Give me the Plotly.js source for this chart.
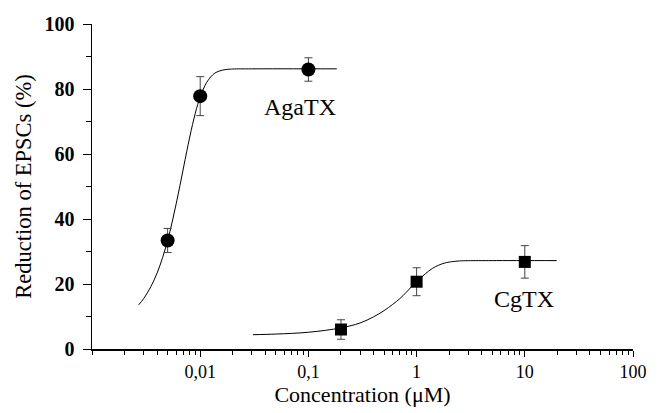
<!DOCTYPE html>
<html>
<head>
<meta charset="utf-8">
<script src="https://cdn.plot.ly/plotly-3.0.1.min.js"></script>
<style>html,body{margin:0;padding:0;background:#fff;}#chart{width:666px;height:413px;}</style>
</head>
<body>
<div id="chart"></div>
<script>
// Measured points (concentration in µM, reduction in %)
const agaConc = [0.005, 0.01, 0.1];
const agaRed = [33.4, 77.8, 86.0];
const agaErr = [3.7, 6.0, 3.6];

const cgConc = [0.2, 1, 10];
const cgRed = [6.0, 20.7, 26.8];
const cgErr = [3.0, 4.3, 5.0];

// Fitted curves, values
const agaFitX = [0.0027, 0.003, 0.0035, 0.004, 0.0045, 0.005, 0.0055, 0.006, 0.0065, 0.007, 0.0075, 0.008, 0.0085, 0.009, 0.0095, 0.01, 0.011, 0.012, 0.013, 0.014, 0.016, 0.018, 0.02, 0.03, 0.183];
const agaFitY = [13.6, 15.5, 19.2, 23.4, 28.2, 33.4, 39.0, 44.7, 50.3, 55.7, 60.7, 65.2, 69.1, 72.5, 75.3, 77.6, 80.9, 83.0, 84.3, 85.1, 85.8, 86.05, 86.15, 86.2, 86.2];
const cgFitX = [0.0307, 0.05, 0.1, 0.2, 0.3, 0.4, 0.5, 0.6, 0.7, 0.8, 0.9, 1.0, 1.2, 1.4, 1.6, 1.8, 2.0, 2.5, 3, 5, 19.7];
const cgFitY = [4.4, 4.6, 5.15, 6.5, 8.0, 9.9, 11.8, 13.7, 15.5, 17.4, 19.2, 20.7, 23.1, 24.8, 25.8, 26.4, 26.75, 27.1, 27.17, 27.2, 27.2];

// Tick labels
const xTickVals = [0.01, 0.1, 1, 10, 100];
const xTickText = ["0,01", "0,1", "1", "10", "100"];
const yTickVals = [0, 20, 40, 60, 80, 100];

const serif = "'Liberation Serif', serif";

const traces = [
  {x: agaFitX, y: agaFitY, mode: "lines", line: {color: "#000", width: 1, shape: "spline", smoothing: 1}, hoverinfo: "skip"},
  {x: cgFitX, y: cgFitY, mode: "lines", line: {color: "#000", width: 1, shape: "spline", smoothing: 1}, hoverinfo: "skip"},
  {x: agaConc, y: agaRed, mode: "markers",
   error_y: {type: "data", array: agaErr, visible: true, color: "#444", thickness: 1, width: 4},
   marker: {symbol: "circle", size: 14, color: "#000"}},
  {x: cgConc, y: cgRed, mode: "markers",
   error_y: {type: "data", array: cgErr, visible: true, color: "#444", thickness: 1, width: 4},
   marker: {symbol: "square", size: 12, color: "#000"}}
];

const layout = {
  width: 666, height: 413,
  margin: {l: 92, r: 33, t: 24, b: 64},
  paper_bgcolor: "#fff", plot_bgcolor: "#fff",
  showlegend: false,
  font: {family: serif, color: "#000"},
  xaxis: {
    type: "log", range: [-3, 2],
    tickmode: "array", tickvals: xTickVals, ticktext: xTickText,
    ticks: "outside", ticklen: 6, tickwidth: 1, tickcolor: "#000",
    ticklabelstandoff: 0,
    minor: {ticks: "outside", ticklen: 4, tickwidth: 1, tickcolor: "#000", dtick: "D1", showgrid: false},
    showline: true, linecolor: "#000", linewidth: 1.5,
    showgrid: false, zeroline: false,
    tickfont: {family: serif, size: 18, color: "#000"},
    title: {text: "Concentration (μM)", font: {family: serif, size: 22, color: "#000"}, standoff: 4}
  },
  yaxis: {
    range: [0, 100],
    tickmode: "array", tickvals: yTickVals,
    ticks: "outside", ticklen: 8, tickwidth: 1, tickcolor: "#000",
    ticklabelstandoff: 4,
    minor: {ticks: "outside", ticklen: 5, tickwidth: 1, tickcolor: "#000", dtick: 10, showgrid: false},
    showline: true, linecolor: "#000", linewidth: 1.5,
    showgrid: false, zeroline: false,
    tickfont: {family: serif, size: 20, weight: "bold", color: "#000"},
    title: {text: "Reduction of EPSCs (%)", font: {family: serif, size: 22.5, color: "#000"}, standoff: 6}
  },
  annotations: [
    {x: -1.077, y: 74.5, xref: "x", yref: "y", text: "AgaTX", showarrow: false,
     font: {family: serif, size: 24, color: "#000"}, xanchor: "center", yanchor: "middle"},
    {x: 0.996, y: 15.5, xref: "x", yref: "y", text: "CgTX", showarrow: false,
     font: {family: serif, size: 24, color: "#000"}, xanchor: "center", yanchor: "middle"}
  ]
};

Plotly.newPlot("chart", traces, layout, {displayModeBar: false, staticPlot: true});
</script>
</body>
</html>
